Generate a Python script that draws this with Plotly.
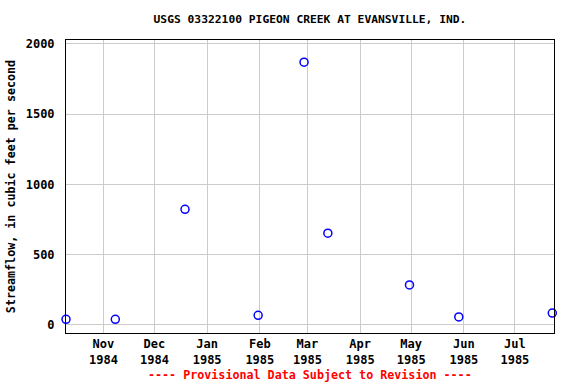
import plotly.graph_objects as go

dates = ["1984-10-10", "1984-11-08", "1984-12-19", "1985-01-31", "1985-02-27",
         "1985-03-13", "1985-04-30", "1985-05-29", "1985-07-23"]
flows = [40, 40, 823, 69, 1870, 653, 285, 57, 85]

tick_vals = ["1984-11-01", "1984-12-01", "1985-01-01", "1985-02-01", "1985-03-01",
             "1985-04-01", "1985-05-01", "1985-06-01", "1985-07-01"]
tick_text = ["Nov<br>1984", "Dec<br>1984", "Jan<br>1985", "Feb<br>1985", "Mar<br>1985",
             "Apr<br>1985", "May<br>1985", "Jun<br>1985", "Jul<br>1985"]
y_ticks = [0, 500, 1000, 1500, 2000]

FONT = "DejaVu Sans Mono"

fig = go.Figure()
fig.add_trace(go.Scatter(
    x=dates, y=flows, mode="markers",
    marker=dict(symbol="circle-open", size=8, color="#0000ff", line=dict(width=1.5, color="#0000ff")),
    cliponaxis=False, showlegend=False,
))

fig.update_layout(
    width=576, height=384,
    margin=dict(l=66, r=22, t=40, b=51, autoexpand=False),
    paper_bgcolor="white", plot_bgcolor="white",
    font=dict(family=FONT, size=11, color="black"),
    title=dict(text="<b>USGS 03322100 PIGEON CREEK AT EVANSVILLE, IND.</b>",
               x=0.5, xanchor="center", xref="paper",
               yref="container", y=1 - 19 / 384, yanchor="middle",
               font=dict(family=FONT, size=11.3, color="black")),
    xaxis=dict(
        type="date", range=["1984-10-10", "1985-07-24"],
        tickvals=tick_vals, ticktext=tick_text, automargin=False,
        showgrid=True, gridcolor="#cccccc", gridwidth=1,
        showline=True, linecolor="black", linewidth=1, mirror=True,
        ticks="", zeroline=False,
        tickfont=dict(family=FONT, size=12, color="black", weight="bold"),
    ),
    yaxis=dict(
        range=[-57, 2028], tickvals=y_ticks, automargin=False,
        showgrid=True, gridcolor="#cccccc", gridwidth=1,
        showline=True, linecolor="black", linewidth=1, mirror=True,
        ticks="", zeroline=False, ticklabelstandoff=8,
        tickfont=dict(family=FONT, size=12, color="black", weight="bold"),
        title=dict(text="<b>Streamflow, in cubic feet per second</b>", standoff=7,
                   font=dict(family=FONT, size=11.7, color="black")),
    ),
    annotations=[dict(
        text="<b>---- Provisional Data Subject to Revision ----</b>",
        xref="paper", yref="paper", x=0.5, xanchor="center",
        y=-42 / 293, yanchor="middle", showarrow=False,
        font=dict(family=FONT, size=11.7, color="#ff0000"),
    )],
)

fig.write_html("out.html", config={"displayModeBar": False},
               post_script="document.body.style.margin='0';")
